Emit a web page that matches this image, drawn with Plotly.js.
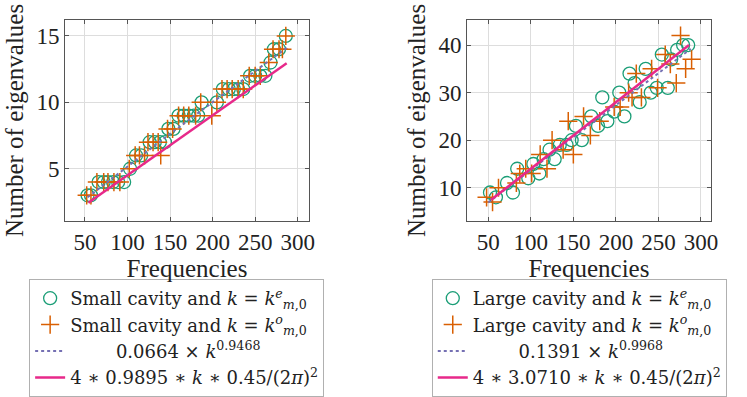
<!DOCTYPE html>
<html>
<head>
<meta charset="utf-8">
<script src="https://cdn.plot.ly/plotly-3.0.1.min.js"></script>
<style>
  body { margin: 0; background: #fff; }
  #chart { width: 747px; height: 397px; }
</style>
</head>
<body>
<div id="chart"></div>
<script>
// small cavity, k = k^e and k = k^o
let smallEx = [53, 57, 66, 72, 77, 83, 89, 96, 103, 110, 116, 126, 132, 138, 144, 148, 154, 160, 166, 172, 178, 183, 187, 205, 212, 219, 225, 230, 236, 244, 250, 256, 262, 268, 272, 278, 286];
let smallEy = [3, 3, 4, 4, 4, 4, 4, 4, 5, 6, 6, 7, 7, 7, 7, 8, 8, 9, 9, 9, 9, 9, 10, 10, 11, 11, 11, 11, 11, 12, 12, 12, 12, 13, 14, 14, 15];
let smallOx = [52, 57, 64, 72, 77, 84, 91, 102, 109, 114, 120, 124, 130, 136, 139, 147, 153, 160, 166, 172, 180, 186, 199, 205, 211, 217, 223, 230, 236, 243, 250, 256, 266, 271, 278, 282, 286];
let smallOy = [3, 3, 4, 4, 4, 4, 4, 5, 6, 6, 6, 7, 7, 7, 6, 8, 8, 9, 9, 9, 9, 10, 9, 10, 11, 11, 11, 11, 11, 12, 12, 12, 13, 14, 14, 14, 15];
// fitted curves (left)
let smallFitX = [53, 100, 150, 200, 250, 288];
let smallFitY = [2.85, 5.2, 7.63, 10.01, 12.38, 14.15];
let smallWeylX = [54, 287];
let smallWeylY = [2.44, 12.95];

// large cavity, k = k^e and k = k^o
let largeEx = [52, 59, 72, 79, 84, 97, 103, 110, 115, 122, 128, 134, 142, 148, 153, 160, 171, 179, 184, 190, 198, 204, 210, 216, 222, 228, 235, 241, 248, 254, 261, 265, 272, 279, 285];
let largeEy = [9, 8, 11, 9, 14, 12, 15, 13, 16, 18, 16, 19, 19, 20, 23, 20, 25, 23, 29, 24, 26, 30, 25, 34, 32, 28, 35, 30, 31, 38, 31, 37, 39, 40, 40];
let largeOx = [48, 55, 62, 83, 87, 94, 101, 111, 119, 125, 138, 144, 150, 162, 170, 181, 198, 205, 215, 219, 224, 230, 242, 249, 258, 264, 271, 276, 282, 289];
let largeOy = [8, 7, 10, 11, 13, 14, 13, 17, 14, 20, 18, 24, 17, 25, 21, 24, 27, 27, 30, 29, 34, 29, 35, 31, 38, 36, 32, 42, 35, 37];
// fitted curves (right)
let largeFitX = [50, 150, 288];
let largeFitY = [6.9, 20.6, 39.2];
let largeWeylX = [53, 286];
let largeWeylY = [7.42, 40.0];

let teal = '#1b9e77', orange = '#d95f02', purple = '#7570b3', pink = '#e7298a';
let serif = 'Liberation Serif, DejaVu Serif, serif';
let legFont = 'DejaVu Serif, serif';
let sp = '\u00a0';

function circles(x, y, name, leg, xa, ya) {
    return {
        x: x, y: y, name: name, legend: leg, xaxis: xa, yaxis: ya,
        mode: 'markers', type: 'scatter',
        marker: {symbol: 'circle-open', size: 13, color: teal, line: {width: 1.3, color: teal}}
    };
}
function crosses(x, y, name, leg, xa, ya) {
    return {
        x: x, y: y, name: name, legend: leg, xaxis: xa, yaxis: ya,
        mode: 'markers', type: 'scatter',
        marker: {symbol: 'cross-thin-open', size: 13, color: orange, line: {width: 1.5, color: orange}}
    };
}
function fitLine(x, y, name, leg, xa, ya) {
    return {
        x: x, y: y, name: name, legend: leg, xaxis: xa, yaxis: ya,
        mode: 'lines', type: 'scatter', line: {color: purple, width: 2, dash: '3px,3px'}
    };
}
function weylLine(x, y, name, leg, xa, ya) {
    return {
        x: x, y: y, name: name, legend: leg, xaxis: xa, yaxis: ya,
        mode: 'lines', type: 'scatter', line: {color: pink, width: 2.5}
    };
}

let data = [
    circles(smallEx, smallEy, 'Small cavity and <i>k</i> = <i>k</i><sup><i>e</i></sup><sub><i>m</i>,0</sub>', 'legend', 'x', 'y'),
    crosses(smallOx, smallOy, 'Small cavity and <i>k</i> = <i>k</i><sup><i>o</i></sup><sub><i>m</i>,0</sub>', 'legend', 'x', 'y'),
    fitLine(smallFitX, smallFitY, sp.repeat(8) + '0.0664 × <i>k</i><sup>0.9468</sup>', 'legend', 'x', 'y'),
    weylLine(smallWeylX, smallWeylY, '4 ∗ 0.9895 ∗ <i>k</i> ∗ 0.45/(2<i>π</i>)<sup>2</sup>', 'legend', 'x', 'y'),
    circles(largeEx, largeEy, 'Large cavity and <i>k</i> = <i>k</i><sup><i>e</i></sup><sub><i>m</i>,0</sub>', 'legend2', 'x2', 'y2'),
    crosses(largeOx, largeOy, 'Large cavity and <i>k</i> = <i>k</i><sup><i>o</i></sup><sub><i>m</i>,0</sub>', 'legend2', 'x2', 'y2'),
    fitLine(largeFitX, largeFitY, sp.repeat(8) + '0.1391 × <i>k</i><sup>0.9968</sup>', 'legend2', 'x2', 'y2'),
    weylLine(largeWeylX, largeWeylY, '4 ∗ 3.0710 ∗ <i>k</i> ∗ 0.45/(2<i>π</i>)<sup>2</sup>', 'legend2', 'x2', 'y2')
];

let axisStyle = {
    showgrid: true, gridcolor: '#dddddd', gridwidth: 1,
    showline: true, linecolor: '#555555', linewidth: 1, mirror: 'ticks',
    ticks: 'inside', ticklen: 4, tickcolor: '#555555',
    zeroline: false, tickfont: {family: serif, size: 23, color: '#222'}
};
let titleFont = {family: serif, size: 25, color: '#222'};

let legendStyle = {
    font: {family: legFont, size: 18, color: '#222'},
    bordercolor: '#b0b0b0', borderwidth: 1, bgcolor: '#fff',
    yanchor: 'top', xanchor: 'left', itemwidth: 30, tracegroupgap: 0
};

let layout = {
    width: 747, height: 397,
    margin: {l: 0, r: 0, t: 0, b: 0},
    paper_bgcolor: '#fff', plot_bgcolor: '#fff',
    showlegend: true,
    xaxis: Object.assign({}, axisStyle, {domain: [0.0870, 0.4137], range: [26.5, 313.3], tickvals: [50, 100, 150, 200, 250, 300],
        title: {text: 'Frequencies', font: titleFont, standoff: 0}, anchor: 'y'}),
    yaxis: Object.assign({}, axisStyle, {domain: [0.431, 0.9496], range: [1.04, 16.23], tickvals: [5, 10, 15],
        title: {text: 'Number of eigenvalues', font: titleFont, standoff: 5}, anchor: 'x'}),
    xaxis2: Object.assign({}, axisStyle, {domain: [0.6252, 0.9518], range: [25, 311.8], tickvals: [50, 100, 150, 200, 250, 300],
        title: {text: 'Frequencies', font: titleFont, standoff: 0}, anchor: 'y2'}),
    yaxis2: Object.assign({}, axisStyle, {domain: [0.431, 0.9496], range: [2.94, 45.35], tickvals: [10, 20, 30, 40],
        title: {text: 'Number of eigenvalues', font: titleFont, standoff: 5}, anchor: 'x2'}),
    legend: Object.assign({}, legendStyle, {x: 0.039, y: 0.282}),
    legend2: Object.assign({}, legendStyle, {x: 0.578, y: 0.282})
};

Plotly.newPlot('chart', data, layout, {staticPlot: true});
</script>
</body>
</html>
